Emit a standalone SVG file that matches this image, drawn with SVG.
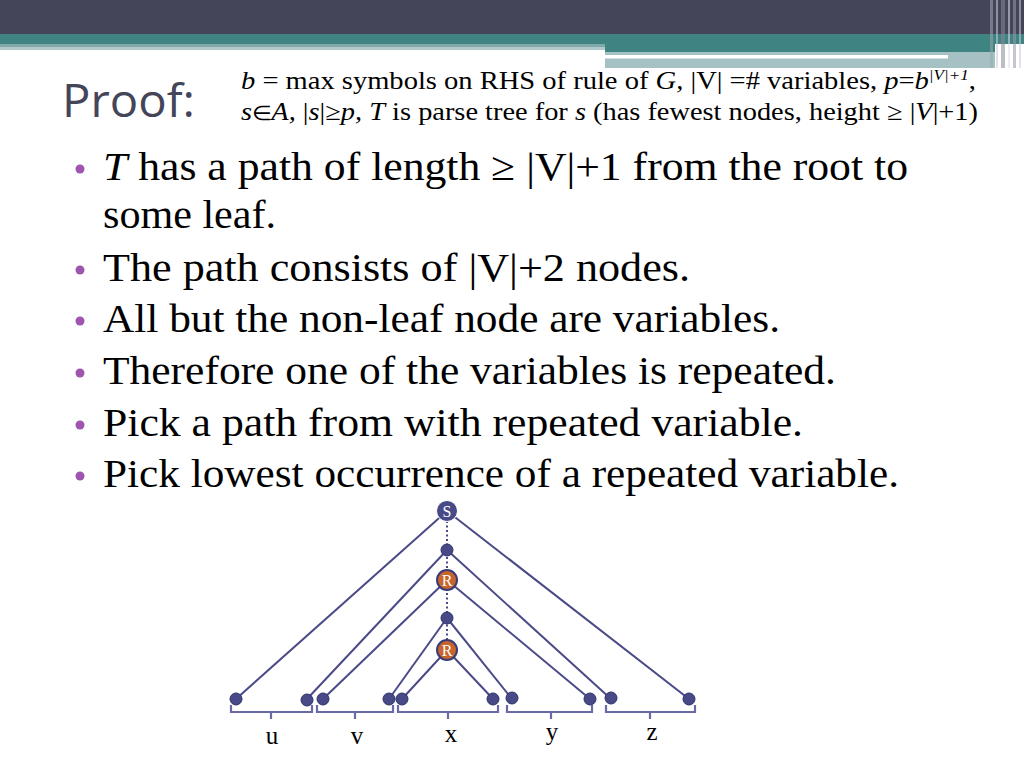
<svg xmlns="http://www.w3.org/2000/svg" width="1024" height="768" viewBox="0 0 1024 768">
<style>
.serif{font-family:"Liberation Serif","Times New Roman",serif;fill:#000}
.hdr{font-size:25px}
.bul{font-family:"Liberation Serif","Times New Roman",serif;font-size:40px;fill:#000}
.it{font-style:italic}
.dot{fill:#9f55ad}
.edge{stroke:#4a4a86;stroke-width:2;fill:none}
.brace{stroke:#6a6aa6;stroke-width:2.2;fill:none}
.leaf{fill:#474a86;stroke:#2f3168;stroke-width:1}
.var{fill:#c8652c;stroke:#3a3c78;stroke-width:2}
.nlabel{font-family:"Liberation Serif",serif;font-size:16px;fill:#fff;text-anchor:middle}
.lbl{font-family:"Liberation Serif",serif;font-size:25px;fill:#000;text-anchor:middle}
</style>
<rect width="1024" height="768" fill="#ffffff"/>
<g id="header-bar">
<rect x="0" y="0" width="1024" height="35" fill="#45455a"/>
<rect x="0" y="34" width="1024" height="10" fill="#3f8383"/>
<rect x="0" y="44" width="605" height="3" fill="#7fa9ab"/>
<rect x="0" y="47" width="605" height="3" fill="#b2c9cc"/>
<rect x="605" y="44" width="390" height="8" fill="#3f8383"/>
<rect x="605" y="52" width="390" height="16" fill="#a6c1c4"/>
<rect x="605" y="55" width="343" height="3.5" fill="#ffffff"/>
<g opacity="0.55">
<rect x="990" y="0" width="3" height="68" fill="#9aa"/>
<rect x="996" y="0" width="2" height="68" fill="#ccd"/>
<rect x="1001" y="0" width="4" height="68" fill="#889"/>
<rect x="1008" y="0" width="2" height="68" fill="#dde"/>
<rect x="1013" y="0" width="3" height="68" fill="#99a"/>
<rect x="1019" y="0" width="2" height="68" fill="#ccd"/>
</g>
</g>
<g id="title">
<text x="62" y="117" font-family="'Open Sans','Liberation Sans',sans-serif" font-size="45" fill="#45455a" textLength="133" lengthAdjust="spacingAndGlyphs">Proof:</text>
</g>
<g id="definitions" class="serif hdr">
<text x="241" y="89" textLength="735" lengthAdjust="spacingAndGlyphs"><tspan class="it">b</tspan> = max symbols on RHS of rule of <tspan class="it">G,</tspan> |V| =# variables, <tspan class="it">p</tspan>=<tspan class="it">b</tspan><tspan class="it" font-size="15" dy="-9">|V|+1</tspan><tspan dy="9">,</tspan></text>
<text x="241" y="120" textLength="737" lengthAdjust="spacingAndGlyphs"><tspan class="it">s</tspan><tspan font-size="20">∈</tspan><tspan class="it">A,</tspan> |<tspan class="it">s</tspan>|≥<tspan class="it">p, T</tspan> is parse tree for <tspan class="it">s</tspan> (has fewest nodes, height ≥ |<tspan class="it">V</tspan>|+1)</text>
</g>
<g id="bullets" class="bul">
<circle class="dot" cx="80" cy="169" r="4.5"/>
<text x="103" y="180" textLength="805" lengthAdjust="spacingAndGlyphs"><tspan class="it">T</tspan> has a path of length ≥ |V|+1 from the root to</text>
<text x="103" y="228" textLength="173" lengthAdjust="spacingAndGlyphs">some leaf.</text>
<circle class="dot" cx="80" cy="270" r="4.5"/>
<text x="103" y="281" textLength="587" lengthAdjust="spacingAndGlyphs">The path consists of |V|+2 nodes.</text>
<circle class="dot" cx="80" cy="321" r="4.5"/>
<text x="103" y="332" textLength="677" lengthAdjust="spacingAndGlyphs">All but the non-leaf node are variables.</text>
<circle class="dot" cx="80" cy="373" r="4.5"/>
<text x="103" y="384" textLength="733" lengthAdjust="spacingAndGlyphs">Therefore one of the variables is repeated.</text>
<circle class="dot" cx="80" cy="425" r="4.5"/>
<text x="103" y="436" textLength="700" lengthAdjust="spacingAndGlyphs">Pick a path from with repeated variable.</text>
<circle class="dot" cx="80" cy="476" r="4.5"/>
<text x="103" y="487" textLength="796" lengthAdjust="spacingAndGlyphs">Pick lowest occurrence of a repeated variable.</text>
</g>
<g id="connectors">
<line class="edge" x1="447" y1="521" x2="447" y2="640" stroke-dasharray="2,2.5"/>
<line class="edge" x1="447" y1="511" x2="236" y2="699"/>
<line class="edge" x1="447" y1="511" x2="689" y2="699"/>
<line class="edge" x1="447" y1="550" x2="307" y2="699"/>
<line class="edge" x1="447" y1="550" x2="611" y2="699"/>
<line class="edge" x1="447" y1="580" x2="323" y2="699"/>
<line class="edge" x1="447" y1="580" x2="590" y2="699"/>
<line class="edge" x1="447" y1="618" x2="389" y2="699"/>
<line class="edge" x1="447" y1="618" x2="512" y2="699"/>
<line class="edge" x1="447" y1="650" x2="402" y2="699"/>
<line class="edge" x1="447" y1="650" x2="493" y2="699"/>
</g>
<g id="node-S"><circle cx="447" cy="511" r="10.5" fill="#474a86" stroke="#ffffff" stroke-width="1"/><text class="nlabel" x="447" y="517">S</text></g>
<g id="node-a"><circle class="leaf" cx="447" cy="550" r="6"/></g>
<g id="node-R1"><circle class="var" cx="447" cy="580" r="10"/><text class="nlabel" x="447" y="586">R</text></g>
<g id="node-b"><circle class="leaf" cx="447" cy="618" r="6"/></g>
<g id="node-R2"><circle class="var" cx="447" cy="650" r="10"/><text class="nlabel" x="447" y="656">R</text></g>
<g id="leaves">
<circle class="leaf" cx="236" cy="699" r="6"/>
<circle class="leaf" cx="307" cy="700" r="6"/>
<circle class="leaf" cx="323" cy="699" r="6"/>
<circle class="leaf" cx="389" cy="699" r="6"/>
<circle class="leaf" cx="402" cy="699" r="6"/>
<circle class="leaf" cx="493" cy="699" r="6"/>
<circle class="leaf" cx="512" cy="698" r="6"/>
<circle class="leaf" cx="590" cy="699" r="6"/>
<circle class="leaf" cx="611" cy="698" r="6"/>
<circle class="leaf" cx="689" cy="699" r="6"/>
</g>
<g id="braces">
<path class="brace" d="M231 705 V712 H312 V705 M271 712 V719"/>
<path class="brace" d="M317 705 V712 H393 V705 M355 712 V719"/>
<path class="brace" d="M398 705 V712 H498 V705 M448 712 V719"/>
<path class="brace" d="M507 705 V712 H592 V705 M551 712 V719"/>
<path class="brace" d="M606 705 V712 H695 V705 M650 712 V719"/>
</g>
<g id="labels">
<text class="lbl" x="272" y="744">u</text>
<text class="lbl" x="357" y="744">v</text>
<text class="lbl" x="451" y="742">x</text>
<text class="lbl" x="552" y="740">y</text>
<text class="lbl" x="652" y="740">z</text>
</g>
</svg>
